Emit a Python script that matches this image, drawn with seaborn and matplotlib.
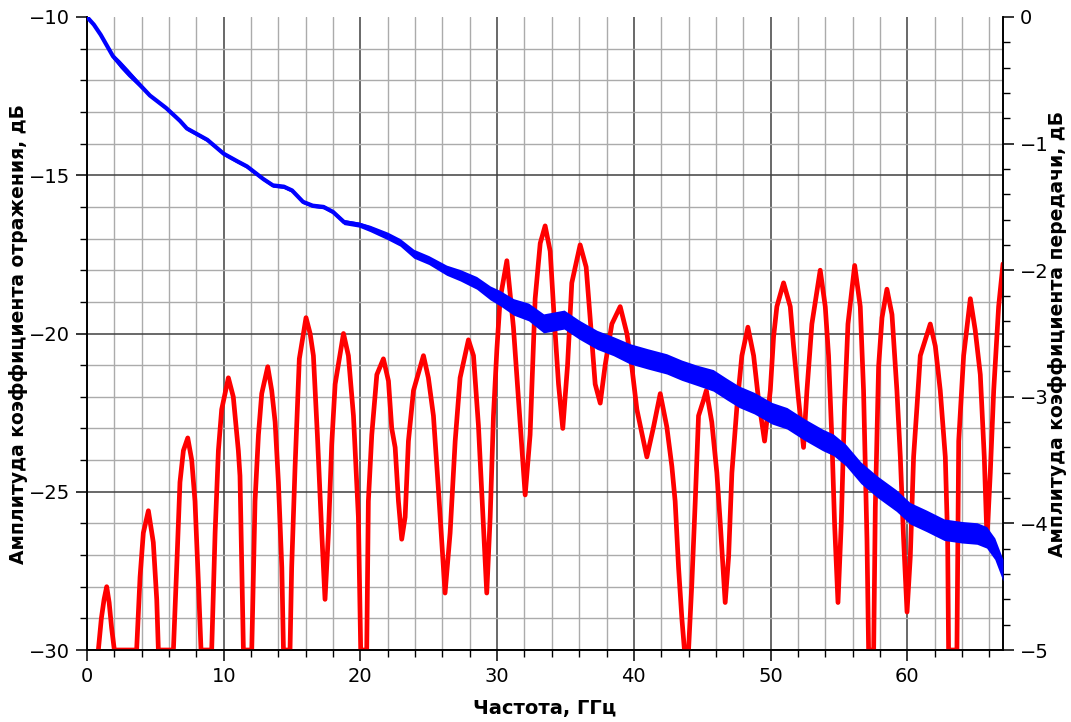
import numpy as np
import pandas as pd
import matplotlib
matplotlib.use("Agg")
import matplotlib.pyplot as plt
from matplotlib.ticker import MultipleLocator
import seaborn as sns

# ---------------- data ----------------
red_f = [0.83, 1.05, 1.25, 1.44, 1.62, 1.80, 2.00, 3.63, 3.88, 4.12, 4.49, 4.85, 5.10, 5.22,
         6.32, 6.56, 6.80, 7.05, 7.37, 7.66, 7.90, 8.15, 8.34, 9.12, 9.37, 9.61, 9.85, 10.34,
         10.70, 11.07, 11.19, 11.44, 12.05, 12.29, 12.54, 12.78, 13.22, 13.51, 13.76, 14.00,
         14.25, 14.37, 14.85, 14.97, 15.22, 15.53, 16.02, 16.32, 16.56, 16.85, 17.17, 17.41,
         17.66, 17.90, 18.15, 18.76, 19.12, 19.49, 19.85, 20.02, 20.46, 20.58, 20.83, 21.20,
         21.68, 22.05, 22.29, 22.54, 22.78, 23.02, 23.27, 23.51, 23.88, 24.61, 24.97, 25.34,
         25.70, 26.19, 26.56, 26.93, 27.29, 27.90, 28.27, 28.63, 28.93, 29.24, 29.49, 29.73,
         29.98, 30.22, 30.71, 31.19, 31.56, 32.05, 32.41, 32.78, 33.15, 33.51, 33.88, 34.17,
         34.49, 34.80, 35.15, 35.46, 36.07, 36.51, 36.80, 37.17, 37.54, 37.90, 38.39, 39.00,
         39.49, 39.85, 40.22, 40.95, 41.44, 41.93, 42.41, 42.78, 43.02, 43.27, 43.51, 43.70,
         44.00, 44.24, 44.49, 44.73, 45.10, 45.30, 45.70, 46.07, 46.32, 46.68, 46.93, 47.17,
         47.54, 47.90, 48.34, 48.76, 49.12, 49.56, 49.98, 50.22, 50.46, 50.95, 51.44, 51.68,
         52.05, 52.41, 52.66, 53.02, 53.63, 54.00, 54.24, 54.49, 54.68, 54.93, 55.17, 55.41,
         55.66, 56.15, 56.56, 56.80, 57.05, 57.17, 57.54, 57.66, 57.90, 58.15, 58.51, 58.88,
         59.24, 59.49, 59.73, 59.98, 60.22, 60.46, 60.71, 60.95, 61.68, 62.05, 62.41, 62.78,
         62.95, 63.02, 63.63, 63.76, 64.12, 64.61, 64.97, 65.34, 65.63, 65.83, 66.07, 66.32,
         66.68, 67.00]
red_db = [-30.0, -29.0, -28.4, -28.0, -28.5, -29.3, -30.0, -30.0, -27.7, -26.3, -25.6, -26.6, -28.4, -30.0,
          -30.0, -27.4, -24.7, -23.7, -23.3, -24.0, -25.3, -27.9, -30.0, -30.0, -26.3, -23.7, -22.4, -21.4,
          -22.0, -23.7, -24.5, -30.0, -30.0, -25.3, -23.2, -21.9, -21.05, -21.8, -22.8, -24.7,
          -27.4, -30.0, -30.0, -27.4, -24.2, -20.8, -19.5, -20.0, -20.7, -23.2, -26.3, -28.4,
          -26.3, -23.5, -21.6, -20.0, -20.7, -22.6, -25.8, -30.0, -30.0, -25.3, -23.2, -21.3,
          -20.8, -21.5, -23.0, -23.6, -25.3, -26.5, -25.8, -23.4, -21.8, -20.7, -21.4, -22.6,
          -24.9, -28.2, -26.3, -23.4, -21.4, -20.2, -20.7, -22.9, -25.5, -28.2, -25.8, -22.6,
          -20.5, -18.9, -17.7, -19.8, -22.1, -25.1, -23.2, -18.9, -17.15, -16.6, -17.4, -19.5,
          -21.6, -23.0, -21.0, -18.4, -17.2, -17.9, -19.5, -21.6, -22.2, -21.0, -19.7, -19.15,
          -20.0, -21.05, -22.4, -23.9, -22.95, -21.9, -22.95, -24.2, -25.3, -27.4, -29.0, -30.0,
          -30.0, -27.9, -25.3, -22.6, -22.1, -21.8, -22.8, -24.4, -26.0, -28.5, -27.05, -24.4,
          -22.3, -20.7, -19.8, -20.7, -22.1, -23.4, -21.8, -20.1, -19.15, -18.4, -19.15, -20.4,
          -22.1, -23.6, -21.8, -19.7, -18.0, -19.15, -20.7, -23.4, -26.0, -28.5, -26.0, -22.3,
          -19.7, -17.85, -19.15, -21.8, -26.5, -30.0, -30.0, -25.5, -21.05, -19.5, -18.6, -19.4,
          -21.8, -23.9, -26.5, -28.8, -27.05, -23.9, -22.3, -20.7, -19.7, -20.4, -21.8, -23.9,
          -26.5, -30.0, -30.0, -23.4, -20.7, -18.9, -19.9, -21.3, -23.9, -26.5, -24.4, -21.8,
          -19.15, -17.8]

blue_f = [0.0, 0.5, 1.0, 1.9, 2.4, 3.0, 3.9, 4.6, 5.8, 6.8, 7.3, 8.8, 10.0, 11.0, 11.7, 12.9,
          13.6, 14.4, 15.0, 15.8, 16.5, 17.3, 18.0, 18.8, 19.9, 20.7, 22.0, 22.9, 23.9, 25.0,
          26.3, 27.3, 28.5, 29.5, 30.2, 31.2, 32.3, 33.4, 34.9, 36.0, 37.3, 38.5, 39.7, 41.0,
          42.4, 43.5, 44.6, 45.8, 46.8, 47.7, 48.8, 50.1, 51.2, 52.5, 53.8, 54.6, 55.5, 56.6,
          57.8, 59.2, 60.2, 61.4, 62.7, 64.0, 65.1, 65.8, 66.4, 67.0]
blue_db = [0.0, -0.06, -0.14, -0.31, -0.37, -0.44, -0.54, -0.62, -0.72, -0.82, -0.88, -0.97, -1.08, -1.14, -1.18, -1.28,
           -1.33, -1.34, -1.37, -1.46, -1.49, -1.50, -1.54, -1.62, -1.64, -1.67, -1.73, -1.78, -1.87, -1.92,
           -2.00, -2.04, -2.10, -2.18, -2.22, -2.29, -2.33, -2.42, -2.39, -2.47, -2.55, -2.60, -2.66, -2.70,
           -2.74, -2.79, -2.83, -2.87, -2.94, -3.00, -3.05, -3.13, -3.17, -3.26, -3.34, -3.38, -3.46, -3.60,
           -3.71, -3.82, -3.92, -3.98, -4.05, -4.07, -4.08, -4.11, -4.20, -4.37]
# half-width of the noise band around the blue trace (dB)
blue_noise = [0.01, 0.01, 0.01, 0.02, 0.03, 0.03, 0.02, 0.01, 0.015, 0.015, 0.015, 0.015, 0.015, 0.015, 0.015, 0.015,
              0.015, 0.015, 0.015, 0.015, 0.015, 0.015, 0.015, 0.02, 0.02, 0.025, 0.03, 0.03, 0.035, 0.035,
              0.04, 0.045, 0.05, 0.055, 0.06, 0.065, 0.07, 0.075, 0.075, 0.075, 0.075, 0.075, 0.08, 0.08,
              0.08, 0.08, 0.08, 0.085, 0.085, 0.085, 0.085, 0.085, 0.085, 0.085, 0.085, 0.085, 0.085, 0.085,
              0.085, 0.085, 0.085, 0.085, 0.085, 0.085, 0.085, 0.085, 0.085, 0.085]

x_major = [0, 10, 20, 30, 40, 50, 60]
left_major = [-30, -25, -20, -15, -10]
right_major = [-5, -4, -3, -2, -1, 0]

xlabel = "Частота, ГГц"
ylabel_left = "Амплитуда коэффициента отражения, дБ"
ylabel_right = "Амплитуда коэффициента передачи, дБ"

# ---------------- plotting ----------------
sns.set_theme(style="white")
plt.rcParams["font.family"] = ["DejaVu Sans"]
plt.rcParams["axes.unicode_minus"] = True

fig = plt.figure(figsize=(10.71, 7.22), dpi=100)
ax = fig.add_axes([87 / 1071, 72 / 722, 916 / 1071, 633 / 722])

red_df = pd.DataFrame({"f": red_f, "db": red_db})
sns.lineplot(data=red_df, x="f", y="db", ax=ax, color="#ff0000", lw=3.4, zorder=3)

ax.set_xlim(0, 67)
ax.set_ylim(-30, -10)
ax.set_xticks(x_major)
ax.set_yticks(left_major)
ax.xaxis.set_minor_locator(MultipleLocator(2))
ax.yaxis.set_minor_locator(MultipleLocator(1))

ax.grid(which="minor", color="#ababab", lw=1.0)
ax.grid(which="major", color="#404040", lw=1.1)
ax.set_axisbelow(True)
ax.yaxis.get_major_ticks()[-1].gridline.set_visible(False)

ax2 = ax.twinx()
blue_df = pd.DataFrame({"f": blue_f, "db": blue_db})
lo = [c - n for c, n in zip(blue_db, blue_noise)]
hi = [c + n for c, n in zip(blue_db, blue_noise)]
ax2.fill_between(blue_f, lo, hi, color="#0000ff", lw=0, zorder=3)
sns.lineplot(data=blue_df, x="f", y="db", ax=ax2, color="#0000ff", lw=3.0, zorder=4)
ax2.set_ylim(-5, 0)
ax2.set_yticks(right_major)
ax2.yaxis.set_minor_locator(MultipleLocator(0.2))

for a in (ax, ax2):
    a.spines["top"].set_visible(False)
    for s in ("left", "right", "bottom"):
        a.spines[s].set_color("black")
        a.spines[s].set_linewidth(1.2)
    a.tick_params(which="major", direction="out", length=8, width=1.1, color="black",
                  labelsize=14, labelcolor="black", pad=4)
    a.tick_params(which="minor", direction="out", length=5, width=1.0, color="black")

ax.tick_params(axis="x", which="both", bottom=True)
ax.tick_params(axis="y", which="both", left=True, right=False)
ax2.tick_params(axis="y", which="both", right=True, left=False)

ax.set_xlabel(xlabel, fontsize=14, fontweight="bold", color="black")
ax.set_ylabel(ylabel_left, fontsize=13.5, fontweight="bold", color="black")
ax2.set_ylabel(ylabel_right, fontsize=13.5, fontweight="bold", color="black", rotation=90)
ax.xaxis.set_label_coords(0.5, -0.078)
ax.yaxis.set_label_coords(-0.064, 0.5)
ax2.yaxis.set_label_coords(1.049, 0.5)

fig.savefig("out.png", dpi=100)
